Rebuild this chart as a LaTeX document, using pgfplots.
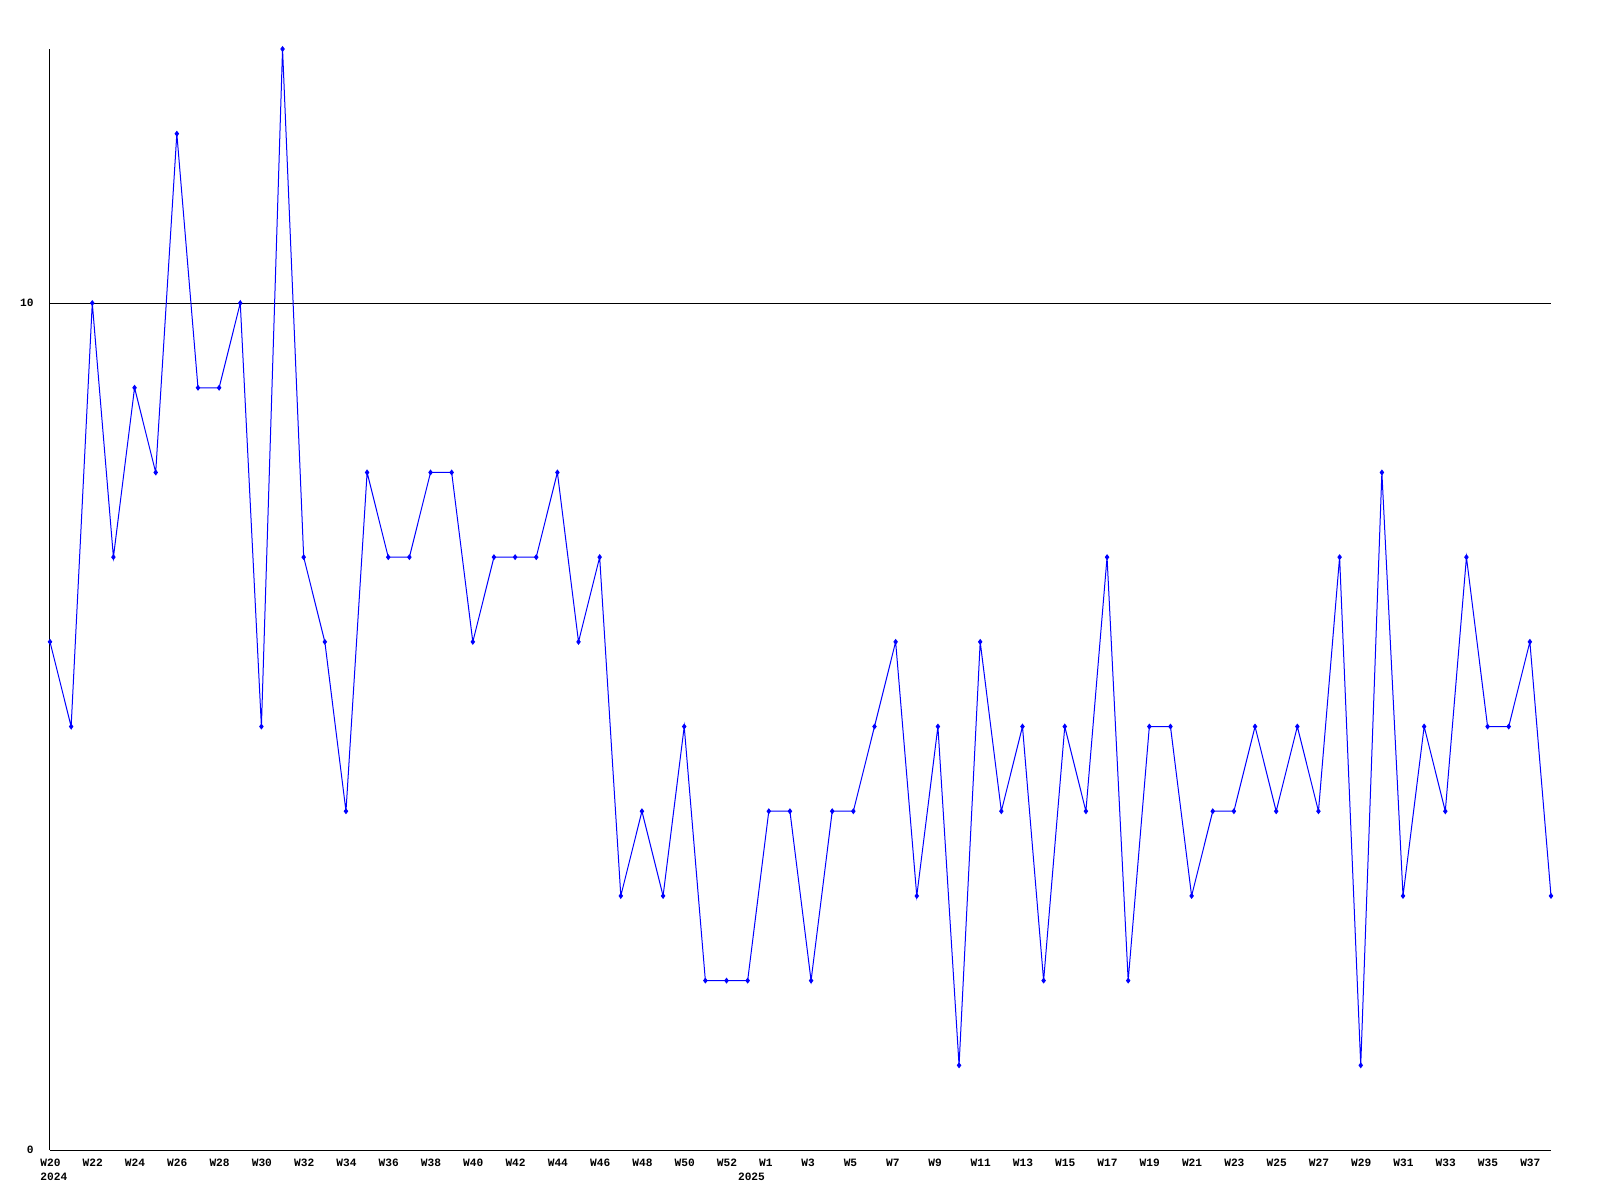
\documentclass[border=0pt]{standalone}
\usepackage{fontspec}
\setmainfont{Liberation Mono}
\usepackage{pgfplots}
\pgfplotsset{compat=1.18}
\begin{document}
\begin{tikzpicture}
\path[use as bounding box] (-25pt,-25pt) rectangle (775pt,575pt);
\begin{axis}[
  at={(0,0)}, anchor=south west,
  scale only axis, width=750.5pt, height=550.5pt,
  xmin=0, xmax=71, ymin=0, ymax=13,
  axis x line=bottom, axis y line=left,
  axis line style={-, black, line width=0.5pt},
  major tick length=0pt,
  xtick={0,2,...,70},
  xticklabels={W20,W22,W24,W26,W28,W30,W32,W34,W36,W38,W40,W42,W44,W46,W48,W50,W52,W1,W3,W5,W7,W9,W11,W13,W15,W17,W19,W21,W23,W25,W27,W29,W31,W33,W35,W37},
  extra x ticks={0,33},
  extra x tick labels={2024,2025},
  extra x tick style={tick label style={yshift=-7pt}},
  x tick label style={anchor=north west, xshift=-5pt, yshift=-4.5pt, inner sep=0pt},
  ytick={0,10}, yticklabels={0,10},
  y tick label style={anchor=east, xshift=-8pt, inner sep=0pt},
  ymajorgrids, grid style={black, line width=0.5pt},
  tick label style={font=\fontsize{5.6}{6}\selectfont\bfseries},
  clip=false,
]
\addplot[color={rgb,255:red,0;green,0;blue,255}, line width=0.5pt, mark=diamond*, mark size=1.1pt] coordinates {
(0,6)(1,5)(2,10)(3,7)(4,9)(5,8)(6,12)(7,9)(8,9)(9,10)
(10,5)(11,13)(12,7)(13,6)(14,4)(15,8)(16,7)(17,7)(18,8)(19,8)
(20,6)(21,7)(22,7)(23,7)(24,8)(25,6)(26,7)(27,3)(28,4)(29,3)
(30,5)(31,2)(32,2)(33,2)(34,4)(35,4)(36,2)(37,4)(38,4)(39,5)
(40,6)(41,3)(42,5)(43,1)(44,6)(45,4)(46,5)(47,2)(48,5)(49,4)
(50,7)(51,2)(52,5)(53,5)(54,3)(55,4)(56,4)(57,5)(58,4)(59,5)
(60,4)(61,7)(62,1)(63,8)(64,3)(65,5)(66,4)(67,7)(68,5)(69,5)
(70,6)(71,3)
};
\end{axis}
\end{tikzpicture}
\end{document}
